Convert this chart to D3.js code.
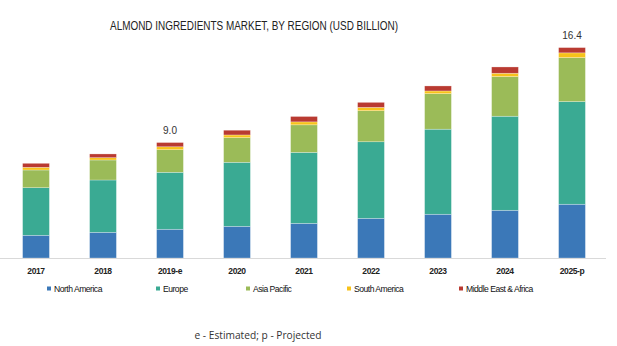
<!DOCTYPE html>
<html>
<head>
<meta charset="utf-8">
<script src="https://cdn.jsdelivr.net/npm/d3@7"></script>
<style>
  html, body { margin: 0; padding: 0; background: #fff; }
  svg { display: block; }
</style>
</head>
<body>
<svg id="chart" width="617" height="346"></svg>
<script>
// Almond ingredients market by region, USD billion
const years = ["2017", "2018", "2019-e", "2020", "2021", "2022", "2023", "2024", "2025-p"];
const regions = ["North America", "Europe", "Asia Pacific", "South America", "Middle East & Africa"];
const northAmerica = [1.77, 2.00, 2.24, 2.47, 2.70, 3.09, 3.41, 3.72, 4.19];
const europe       = [3.71, 4.08, 4.44, 4.99, 5.53, 5.97, 6.63, 7.33, 8.00];
const asiaPacific  = [1.38, 1.56, 1.76, 1.92, 2.15, 2.42, 2.77, 3.09, 3.43];
const southAmerica = [0.21, 0.18, 0.23, 0.21, 0.23, 0.26, 0.21, 0.26, 0.37];
const middleEast   = [0.31, 0.29, 0.33, 0.37, 0.42, 0.39, 0.39, 0.49, 0.41];
// Totals printed above selected bars
const totalLabels = { "2019-e": "9.0", "2025-p": "16.4" };
const colors = ["#3b78b8", "#3aaa93", "#9bbb58", "#f7c21a", "#b93a31"];

const seriesValues = [northAmerica, europe, asiaPacific, southAmerica, middleEast];
const rows = years.map((yr, i) => {
  const r = { year: yr };
  regions.forEach((reg, j) => { r[reg] = seriesValues[j][i]; });
  return r;
});

const svg = d3.select("#chart");
const baseY = 258;

const x = d3.scaleBand().domain(years).range([2.5, 605.5]).paddingInner(0.6).paddingOuter(0.3);
const totalMax = 16.4;
const y = d3.scaleLinear().domain([0, totalMax]).range([baseY, baseY - 12.83 * totalMax]);

const stacked = d3.stack().keys(regions)(rows);
const color = d3.scaleOrdinal().domain(regions).range(colors);

// Title
svg.append("text")
  .attr("x", 254).attr("y", 30)
  .attr("text-anchor", "middle")
  .attr("font-family", "Liberation Sans, Arial, sans-serif")
  .attr("font-size", 12.5)
  .attr("fill", "#222")
  .attr("textLength", 288)
  .attr("lengthAdjust", "spacingAndGlyphs")
  .text("ALMOND INGREDIENTS MARKET, BY REGION (USD BILLION)");

// Stacked bars
svg.append("g")
  .selectAll("g")
  .data(stacked)
  .join("g")
  .attr("fill", d => color(d.key))
  .selectAll("rect")
  .data(d => d)
  .join("rect")
  .attr("x", d => x(d.data.year))
  .attr("width", x.bandwidth())
  .attr("y", d => y(d[1]))
  .attr("height", d => y(d[0]) - y(d[1]))
  .attr("stroke", "#ffffff")
  .attr("stroke-opacity", 0.45)
  .attr("stroke-width", 0.6);

// Category axis
const axis = svg.append("g")
  .attr("transform", `translate(0,${baseY + 0.5})`)
  .call(d3.axisBottom(x).tickSize(0).tickPadding(9));
axis.select(".domain").attr("stroke", "#d9d9d9").attr("d", "M0,0H606");
axis.selectAll("text")
  .attr("font-family", "Liberation Sans, Arial, sans-serif")
  .attr("font-size", 8.5)
  .attr("font-weight", "bold")
  .attr("letter-spacing", -0.4)
  .attr("fill", "#222");

// Total labels
const totals = years.map((yr, i) => ({ year: yr, total: d3.sum(seriesValues, s => s[i]) }));
svg.append("g")
  .selectAll("text")
  .data(totals.filter(d => totalLabels[d.year]))
  .join("text")
  .attr("x", d => x(d.year) + x.bandwidth() / 2)
  .attr("y", d => y(d.total) - 8.5)
  .attr("text-anchor", "middle")
  .attr("font-family", "Liberation Sans, Arial, sans-serif")
  .attr("font-size", 10)
  .attr("fill", "#333")
  .text(d => totalLabels[d.year]);

// Legend
const legendX = [47, 156, 246, 347, 459];
const legend = svg.append("g")
  .selectAll("g")
  .data(regions)
  .join("g")
  .attr("transform", (d, i) => `translate(${legendX[i]},289)`);
legend.append("rect")
  .attr("x", 0).attr("y", -2.5)
  .attr("width", 4).attr("height", 4)
  .attr("fill", d => color(d));
legend.append("text")
  .attr("x", 7).attr("y", 2.8)
  .attr("font-family", "Liberation Sans, Arial, sans-serif")
  .attr("font-size", 8.6)
  .attr("letter-spacing", -0.5)
  .attr("fill", "#111")
  .text(d => d);

// Footnote
svg.append("text")
  .attr("x", 258).attr("y", 339)
  .attr("text-anchor", "middle")
  .attr("font-family", "Open Sans, Noto Sans, sans-serif")
  .attr("font-size", 10.2)
  .attr("fill", "#333")
  .text("e - Estimated; p - Projected");
</script>
</body>
</html>
